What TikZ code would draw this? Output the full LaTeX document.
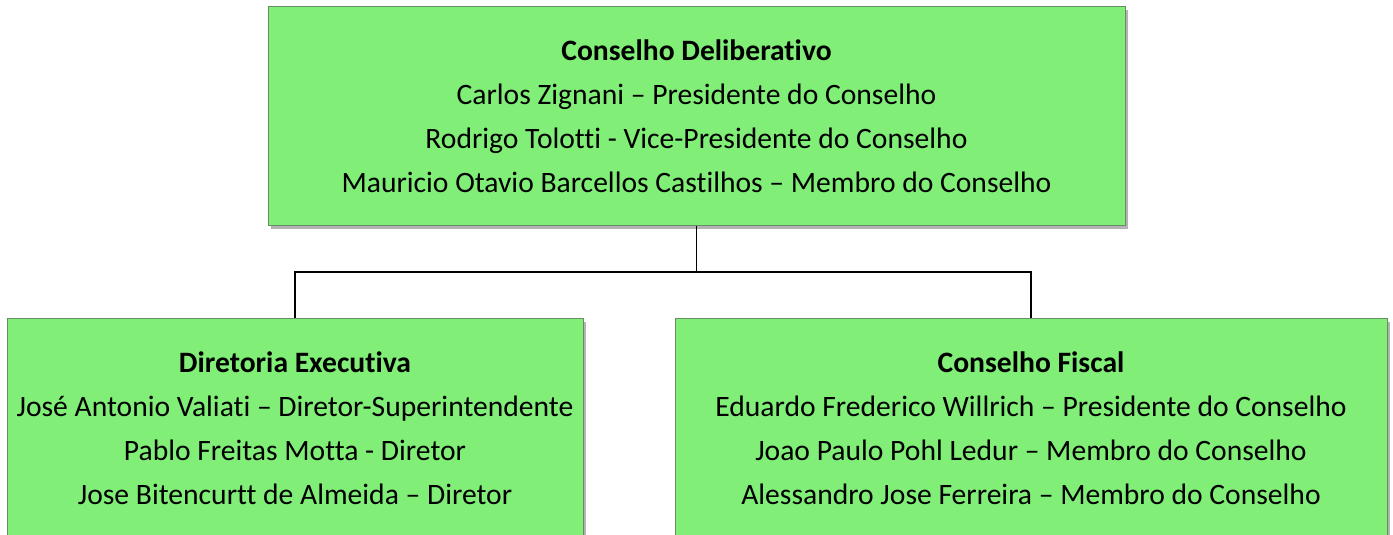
\documentclass[tikz,border=0pt]{standalone}
\usepackage{fontspec}
\setmainfont{Carlito}[Ligatures=NoCommon]
\usetikzlibrary{shadows}
\definecolor{boxfill}{RGB}{128,238,119}
\definecolor{boxline}{RGB}{105,140,100}
\tikzset{
  orgbox/.style={draw=boxline, line width=1pt, fill=boxfill, align=center,
    inner sep=0pt, font=\fontsize{29.6}{44}\selectfont,
    drop shadow={shadow xshift=2.5pt, shadow yshift=-3.5pt, opacity=0.6, fill=gray}},
  link/.style={draw=black, line width=1.5pt}
}
\begin{document}
\begin{tikzpicture}[x=1pt,y=-1pt]
\useasboundingbox (0,0) rectangle (1393,535);
\node[orgbox, minimum width=857pt, minimum height=218pt] (top) at (696.5,116)
  {\textbf{Conselho Deliberativo}\\Carlos Zignani – Presidente do Conselho\\Rodrigo Tolotti - Vice-Presidente do Conselho\\Mauricio Otavio Barcellos Castilhos – Membro do Conselho};
\node[orgbox, minimum width=576pt, minimum height=220pt] (left) at (295,428)
  {\textbf{Diretoria Executiva}\\José Antonio Valiati – Diretor-Superintendente\\Pablo Freitas Motta - Diretor\\Jose Bitencurtt de Almeida – Diretor};
\node[orgbox, minimum width=712pt, minimum height=220pt] (right) at (1031,428)
  {\textbf{Conselho Fiscal}\\Eduardo Frederico Willrich – Presidente do Conselho\\Joao Paulo Pohl Ledur – Membro do Conselho\\Alessandro Jose Ferreira – Membro do Conselho};
\coordinate (j) at (696.5,272);
\draw[link] (top.south) -- (j);
\draw[link] (left.north) |- (j) -| (right.north);
\end{tikzpicture}
\end{document}
